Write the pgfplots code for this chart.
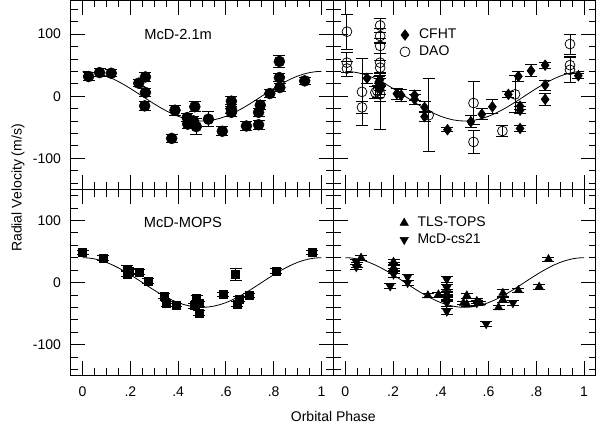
\documentclass[border=0pt]{standalone}
\usepackage{fontspec}
\setmainfont{Liberation Sans}
\usepackage{pgfplots}
\usepackage{pgfplotstable}
\pgfplotsset{compat=1.18}

\pgfplotstableread{
x y
0 40
0.025 39.5
0.05 38.0
0.075 35.6
0.1 32.4
0.125 28.3
0.15 23.5
0.175 18.2
0.2 12.4
0.225 6.3
0.25 0
0.275 -6.3
0.3 -12.4
0.325 -18.2
0.35 -23.5
0.375 -28.3
0.4 -32.4
0.425 -35.6
0.45 -38.0
0.475 -39.5
0.5 -40
0.525 -39.5
0.55 -38.0
0.575 -35.6
0.6 -32.4
0.625 -28.3
0.65 -23.5
0.675 -18.2
0.7 -12.4
0.725 -6.3
0.75 0
0.775 6.3
0.8 12.4
0.825 18.2
0.85 23.5
0.875 28.3
0.9 32.4
0.925 35.6
0.95 38.0
0.975 39.5
1.0 40
}\modelcurve

\pgfplotstableread{
x y e
0.025 31.7 6
0.071 38 6
0.12 37 6
0.235 21 6
0.263 31 7
0.263 6 7
0.26 -15.6 7
0.373 -68 7
0.387 -22.6 8
0.438 -34.4 7
0.44 -45 7
0.464 -39.8 7
0.47 -17 8
0.476 -49 13
0.527 -37 12
0.585 -56.5 7
0.623 -8 8
0.623 -21 7
0.623 -26 7
0.686 -48 7
0.737 -26 7
0.737 -46 7
0.744 -14.5 7
0.784 4.3 7
0.824 56 9
0.824 30 7
0.826 14 7
0.93 24.7 6
}\mcdtwo

\pgfplotstableread{
x y e
0.091 29 8
0.146 27 9
0.146 19 9
0.146 11 9
0.14 23 9
0.216 4 9
0.234 1.6 10
0.29 1.6 8
0.29 -5 8
0.332 -18 9
0.332 -33 8
0.428 -54 3
0.526 -41 10
0.572 -29 9
0.616 -17 11
0.683 3 5
0.725 32 8
0.732 -16 6
0.732 -22.6 6
0.732 -52 5
0.778 41 10
0.837 50 5
0.837 18 8
0.837 -5 10
0.976 33 4
}\cfht

\pgfplotstableread{
x y e
0.007 104 28
0.007 54 16
0.007 44.6 12
0.07 7 54
0.07 -18 10
0.126 6 10
0.146 114 12
0.146 97 12
0.146 81 12
0.146 54 15
0.146 46 12
0.146 17 70
0.146 3 12
0.135 8 10
0.349 -30.6 59
0.537 -11 34
0.537 -73.7 18
0.658 -56 9
0.711 3 30
0.941 84 16
0.941 50 14
0.941 42.5 20
}\dao

\pgfplotstableread{
x y e
0 48 3
0.085 39.5 4
0.186 22 5
0.186 14 5
0.196 18 4
0.238 17 4
0.275 2 4
0.34 -22 4
0.352 -34 4
0.392 -36 3
0.466 -37 4
0.478 -25 4
0.487 -34 4
0.487 -49 4
0.59 -19.5 3
0.641 13 10
0.646 -35 4
0.655 -26.5 4
0.697 -20.6 3
0.81 18 4
0.96 48 3
}\mops

\pgfplotstableread{
x y e
0.066 39.6 4
0.05 29 4
0.202 33 4
0.202 24 4
0.202 18 4
0.346 -21 3
0.39 -19.5 4
0.425 -25 4
0.425 -20 4
0.495 -33 3
0.509 -21 4
0.509 -35 4
0.551 -30 4
0.565 -33 3
0.642 -40 3
0.66 -17 5
0.66 -27.6 4
0.725 -12.5 3
0.812 -7 4
0.851 37.4 3
}\tls

\pgfplotstableread{
x y e
0.046 33 4
0.046 25 4
0.202 27.6 5
0.202 13 5
0.188 -6 4
0.261 8.6 5
0.261 -0.5 4
0.425 5 5
0.425 -8.7 5
0.425 -17 5
0.425 -25 5
0.425 -33 5
0.425 -46.6 5
0.551 -33 4
0.59 -66.7 4
0.702 -33 4
}\cs

\pgfplotsset{
  panel/.style={
    scale only axis, width=197pt,
    xmin=-0.05, xmax=1.05,
    axis line style={line width=0.9pt},
    tick align=inside,
    major tick length=11pt, minor tick length=5.5pt,
    tick style={black, line width=0.6pt},
    xtick={0,0.2,0.4,0.6,0.8,1},
    minor xtick={0.05,0.1,0.15,0.25,0.3,0.35,0.45,0.5,0.55,0.65,0.7,0.75,0.85,0.9,0.95},
    ytick={-100,0,100},
    minor ytick={-140,-120,-80,-60,-40,-20,20,40,60,80,120,140},
    xticklabels={0,.2,.4,.6,.8,1},
    yticklabels={-100,0,100},
    xticklabel shift=4.5pt, yticklabel shift=3.8pt,
    ticklabel style={font=\fontsize{10.5}{12}\selectfont},
    legend style={draw=none, fill=none, inner sep=0pt,
      nodes={inner sep=1.9pt}, font=\fontsize{10.5}{12}\selectfont},
    legend cell align=left,
  },
  ebar/.style={only marks, black,
    error bars/y dir=both, error bars/y explicit,
    error bars/error bar style={line width=0.7pt, black},
    error bars/error mark options={rotate=90, mark size=4.5pt, line width=0.7pt, black}},
  curve/.style={black, line width=0.6pt, no marks, forget plot},
}

\begin{document}
\begin{tikzpicture}
% top left
\begin{axis}[panel, at={(53pt,318.75pt)}, anchor=north west, height=141.98pt,
  ymin=-150, ymax=155, xticklabels={}]
\addplot[curve] table {\modelcurve};
\addplot[ebar, mark=*, mark size=4.1pt, mark options={fill=black}] table[x=x,y=y,y error=e] {\mcdtwo};
\node[font=\fontsize{11}{13}\selectfont] at (axis cs:0.40,100) {McD-2.1m};
\end{axis}
% top right
\begin{axis}[panel, at={(250pt,318.75pt)}, anchor=north west, height=141.98pt,
  ymin=-150, ymax=155, xticklabels={}, yticklabels={},
  legend style={at={(0.253,0.861)}, anchor=north west}]
\addplot[curve] table {\modelcurve};
\addplot[ebar, mark=diamond*, mark size=4pt, mark options={fill=black}] table[x=x,y=y,y error=e] {\cfht};
\addlegendentry{\hspace{5pt}CFHT}
\addplot[ebar, mark=o, mark size=3.7pt, mark options={line width=0.55pt}] table[x=x,y=y,y error=e] {\dao};
\addlegendentry{\hspace{5pt}DAO}
\end{axis}
% bottom left
\begin{axis}[panel, at={(53pt,176.77pt)}, anchor=north west, height=139.8pt,
  ymin=-150, ymax=150]
\addplot[curve] table {\modelcurve};
\addplot[ebar, mark=square*, mark size=3pt, mark options={fill=black}] table[x=x,y=y,y error=e] {\mops};
\node[font=\fontsize{11}{13}\selectfont] at (axis cs:0.42,97) {McD-MOPS};
\end{axis}
% bottom right
\begin{axis}[panel, at={(250pt,176.77pt)}, anchor=north west, height=139.8pt,
  ymin=-150, ymax=150, yticklabels={},
  legend style={at={(0.253,0.866)}, anchor=north west}]
\addplot[curve] table {\modelcurve};
\addplot[ebar, mark=triangle*, mark size=3.6pt, mark options={fill=black}] table[x=x,y=y,y error=e] {\tls};
\addlegendentry{\hspace{5pt}TLS-TOPS}
\addplot[ebar, mark=triangle*, mark size=3.6pt, mark options={fill=black, rotate=180}] table[x=x,y=y,y error=e] {\cs};
\addlegendentry{\hspace{5pt}McD-cs21}
\end{axis}
\node[rotate=90, font=\fontsize{10.5}{12}\selectfont] at (13.5pt,177.75pt) {Radial Velocity (m/s)};
\node[anchor=base, font=\fontsize{10.5}{12}\selectfont] at (250pt,2.5pt) {Orbital Phase};
\pgfresetboundingbox
\path[use as bounding box] (0,0) rectangle (447pt,318.75pt);
\end{tikzpicture}
\end{document}
